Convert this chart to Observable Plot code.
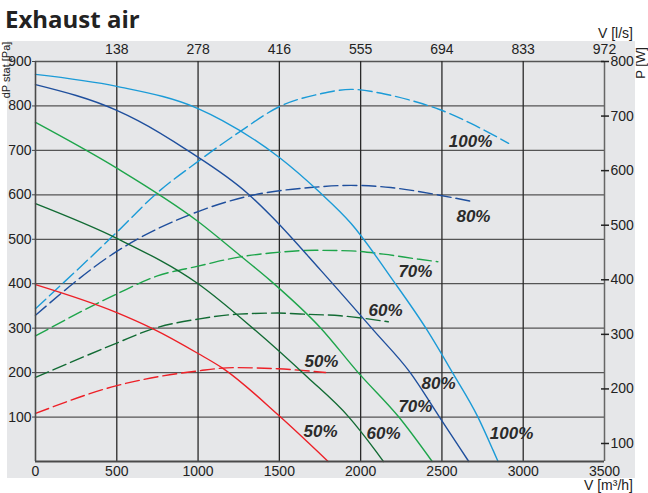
<!DOCTYPE html>
<html><head><meta charset="utf-8">
<script src="https://cdn.jsdelivr.net/npm/d3@7"></script>
<script src="https://cdn.jsdelivr.net/npm/@observablehq/plot@0.6"></script>
<style>
body{margin:0;background:#fff;font-family:"Liberation Sans",Arial,sans-serif;}
#wrap{position:relative;width:648px;height:493px;overflow:hidden;}
#bg{position:absolute;left:7px;top:41px;width:628px;height:437px;background:#e6e7e9;}
#title{position:relative;height:24px;line-height:38px;padding-left:5px;font-family:"Open Sans",sans-serif;font-weight:700;font-size:24px;color:#222;white-space:nowrap;}
#chart{position:relative;}
</style></head><body>
<div id="wrap"><div id="bg"></div><div id="title">Exhaust air</div><div id="chart"></div></div>
<script>
// Axis ticks
const xTicks = [0, 500, 1000, 1500, 2000, 2500, 3000, 3500];
const xGrid = [500, 1000, 1500, 2000, 2500, 3000];
const topTicks = [500, 1000, 1500, 2000, 2500, 3000, 3500];
const topLabels = ["138", "278", "416", "555", "694", "833", "972"];
const yTicks = [100, 200, 300, 400, 500, 600, 700, 800, 900];
const pTicks = [100, 200, 300, 400, 500, 600, 700, 800];

// Series
const seriesNames = ["100%", "80%", "70%", "60%", "50%"];
const seriesColors = ["#1b9bd7", "#1f4f9d", "#1ea54b", "#126b34", "#ed2027"];

// Static pressure dP [Pa] vs airflow V [m3/h] (solid)
const dp100 = [[0,871],[500,844],[1000,794],[1150,767],[1500,684],[1750,605],[1940,536],[2200,407],[2410,295],[2565,200],[2720,101],[2815,25],[2845,0]];
const dp80 = [[0,848],[500,790],[630,767],[935,700],[1305,603],[1445,554],[1755,430],[2080,295],[2305,200],[2485,100],[2665,0]];
const dp70 = [[0,763],[500,660],[1000,540],[1260,463],[1445,407],[1755,300],[1985,200],[2235,100],[2440,0]];
const dp60 = [[0,580],[500,502],[1000,400],[1340,299],[1675,189],[1925,101],[2090,25],[2140,0]];
const dp50 = [[0,398],[500,335],[720,299],[1000,243],[1155,209],[1495,104],[1800,0]];

// Power P [W] vs airflow V [m3/h] (dashed)
const pw100 = [[0,347],[500,487],[740,557],[1000,617],[1260,672],[1505,718],[1755,741],[1940,749],[2140,741],[2305,729],[2485,712],[2675,687],[2910,650]];
const pw80 = [[0,335],[500,452],[1000,525],[1305,553],[1690,569],[1940,573],[2185,569],[2485,555],[2675,544]];
const pw70 = [[0,297],[500,374],[750,407],[1000,425],[1260,442],[1445,449],[1720,454],[1940,453],[2140,447],[2350,438],[2475,433]];
const pw60 = [[0,221],[500,284],[720,310],[1000,328],[1245,337],[1490,339],[1650,337],[1875,334],[2170,323]];
const pw50 = [[0,155],[500,206],[1000,233],[1220,239],[1490,237],[1785,230]];

// Curve labels (x in m3/h, y in Pa of left axis)
const labelText = ["100%", "80%", "70%", "60%", "50%", "80%", "70%", "50%", "60%", "100%"];
const labelX = [2676, 2694, 2337, 2153, 1759, 2479, 2337, 1753, 2141, 2928];
const labelY = [720, 551, 428, 340, 225, 175, 124, 67, 63, 63];

// Right axis mapping: P range [67, 800] W shares the frame with dP [0, 900] Pa
const P0 = 67, P1 = 800, Y1 = 900;
const toY = p => (p - P0) * Y1 / (P1 - P0);
const fromY = y => Math.round(y * (P1 - P0) / Y1 + P0);

const dpData = [dp100, dp80, dp70, dp60, dp50];
const pwData = [pw100, pw80, pw70, pw60, pw50];
const labels = labelText.map((t, i) => ({t, x: labelX[i], y: labelY[i]}));
const topMap = new Map(topTicks.map((d, i) => [d, topLabels[i]]));

const W = 648, H = 469;
const chart = Plot.plot({
  width: W, height: H,
  marginLeft: 35, marginRight: 44, marginTop: 37, marginBottom: 32,
  style: {fontFamily: "'Liberation Sans', Arial, sans-serif", fontSize: "14px", color: "#222", background: "transparent", overflow: "visible"},
  x: {domain: [0, 3500]},
  y: {domain: [0, 900]},
  marks: [
    Plot.ruleY(yTicks, {stroke: "#555", strokeWidth: 1.3}),
    Plot.ruleX(xGrid, {stroke: "#2a2a2a", strokeWidth: 1.3}),
    ...pwData.map((arr, i) => Plot.line(arr, {x: d => d[0], y: d => toY(d[1]), stroke: seriesColors[i], strokeWidth: 1.4, strokeDasharray: "14,5", curve: "monotone-x"})),
    ...dpData.map((arr, i) => Plot.line(arr, {x: d => d[0], y: d => d[1], stroke: seriesColors[i], strokeWidth: 1.4, curve: "monotone-x"})),
    Plot.ruleX([0], {stroke: "#4a4a4a", strokeWidth: 1.6}),
    Plot.ruleX([3500], {stroke: "#666", strokeWidth: 1.5}),
    Plot.ruleY([0], {stroke: "#4a4a4a", strokeWidth: 1.8}),
    Plot.axisX(xTicks, {anchor: "bottom", tickSize: 0, tickPadding: 5, label: null, fontSize: 14, tickFormat: d => String(d)}),
    Plot.axisX(topTicks, {anchor: "top", tickSize: 0, tickPadding: 8, label: null, fontSize: 14, tickFormat: d => topMap.get(d)}),
    Plot.axisY(yTicks, {anchor: "left", tickSize: 3, tickPadding: 1, label: null, fontSize: 14, stroke: "#444", tickFormat: d => String(d)}),
    Plot.axisY(pTicks.map(toY), {anchor: "right", tickSize: 8, dx: -4, tickPadding: 2, label: null, fontSize: 14, strokeWidth: 1.5, tickFormat: d => String(fromY(d))}),
    Plot.text(labels, {x: "x", y: "y", text: "t", fontSize: 17, fontWeight: "bold", fontStyle: "italic", fill: "#2b2b2b"})
  ]
});
document.getElementById("chart").appendChild(chart);

const svg = d3.select(chart);
const fam = "'Liberation Sans', Arial, sans-serif";
svg.append("text").attr("x", 633).attr("y", 14).attr("text-anchor", "end")
  .attr("font-family", fam).attr("font-size", 14).attr("fill", "#222").text("V [l/s]");
svg.append("text").attr("x", 633).attr("y", 466).attr("text-anchor", "end")
  .attr("font-family", fam).attr("font-size", 14).attr("fill", "#222").text("V [m³/h]");
svg.append("text").attr("transform", "translate(645,39) rotate(-90)").attr("text-anchor", "middle")
  .attr("font-family", fam).attr("font-size", 13).attr("fill", "#222").text("P [W]");
svg.append("text").attr("transform", "translate(10,46) rotate(-90)").attr("text-anchor", "middle")
  .attr("font-family", fam).attr("font-size", 11).attr("fill", "#222").text("dP stat [Pa]");
</script>
</body></html>
